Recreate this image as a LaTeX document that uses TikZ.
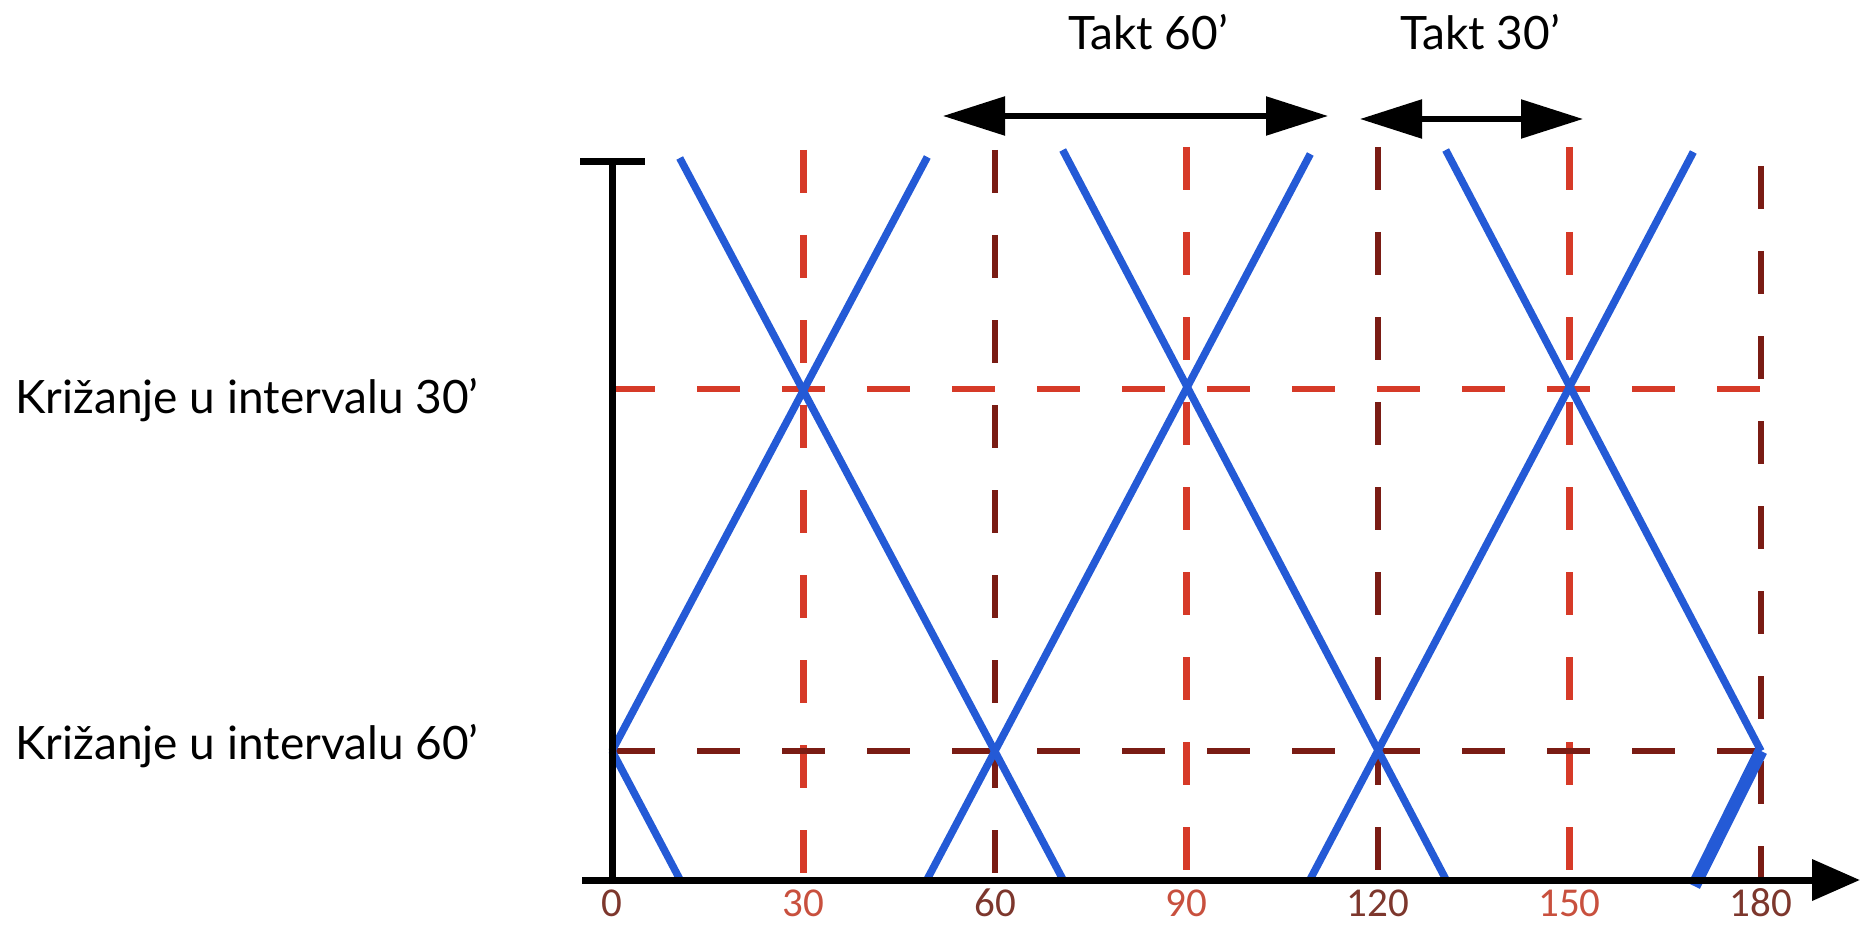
\documentclass[tikz,border=0pt]{standalone}
\usepackage{fontspec}
\setmainfont{Lato}
\newfontfamily\numfont{Carlito}
\usetikzlibrary{arrows.meta}
\definecolor{lred}{RGB}{214,58,40}
\definecolor{dred}{RGB}{122,28,20}
\definecolor{tblue}{RGB}{36,90,214}
\definecolor{numred}{RGB}{200,80,62}
\definecolor{numdark}{RGB}{125,55,45}
\begin{document}
\begin{tikzpicture}[x=1pt,y=-1pt,
  gridline/.style={line width=6.5pt, dash pattern=on 43pt off 42pt},
  train/.style={tblue, line width=7.5pt},
  thicktrain/.style={tblue, line width=13pt},
  axisline/.style={black, line width=7pt},
  taktarrow/.style={black, line width=5.5pt, {Triangle[length=62pt,width=38pt]}-{Triangle[length=62pt,width=38pt]}},
  biglabel/.style={font=\fontsize{46}{52}\selectfont, inner sep=0pt},
  numlabel/.style={font=\numfont\fontsize{41}{44}\selectfont, inner sep=0pt}]
\useasboundingbox (0,0) rectangle (1862,925);

% vertical grid coordinates
\coordinate (v30t) at (803.5,150);  \coordinate (v30b) at (803.5,880);
\coordinate (v60t) at (995,150);    \coordinate (v60b) at (995,880);
\coordinate (v90t) at (1186.5,147); \coordinate (v90b) at (1186.5,880);
\coordinate (v120t) at (1378,147);  \coordinate (v120b) at (1378,880);
\coordinate (v150t) at (1569.5,147);\coordinate (v150b) at (1569.5,880);
\coordinate (v180t) at (1761,166);  \coordinate (v180b) at (1761,880);
% horizontal grid coordinates
\coordinate (h30l) at (612,389); \coordinate (h30r) at (1761,389);
\coordinate (h60l) at (612,751); \coordinate (h60r) at (1761,751);

\draw[gridline, lred] (v30t) -- (v30b);
\draw[gridline, dred] (v60t) -- (v60b);
\draw[gridline, lred] (v90t) -- (v90b);
\draw[gridline, dred] (v120t) -- (v120b);
\draw[gridline, lred] (v150t) -- (v150b);
\draw[gridline, dred] (v180t) -- (v180b);
\draw[gridline, lred] (h30l) -- (h30r);
\draw[gridline, dred] (h60l) -- (h60r);

% train paths
\coordinate (o) at (612,751);
\coordinate (a0t) at (927.3,157);
\coordinate (a1b) at (926.8,880);  \coordinate (a1t) at (1310.3,154);
\coordinate (a2b) at (1309.8,880); \coordinate (a2t) at (1693.3,152);
\coordinate (a3b) at (1694,886);   \coordinate (a3t) at (1761,751);
\coordinate (d0b) at (680.2,880);
\coordinate (d1t) at (679.7,158);  \coordinate (d1b) at (1063.2,880);
\coordinate (d2t) at (1062.7,150); \coordinate (d2b) at (1446.2,880);
\coordinate (d3t) at (1445.7,150); \coordinate (d3b) at (1761,751);

\draw[train] (o) -- (a0t);
\draw[train] (a1b) -- (a1t);
\draw[train] (a2b) -- (a2t);
\draw[thicktrain] (a3b) -- (a3t);
\draw[train] (o) -- (d0b);
\draw[train] (d1t) -- (d1b);
\draw[train] (d2t) -- (d2b);
\draw[train] (d3t) -- (d3b);

% axes
\coordinate (xl) at (582,880); \coordinate (xr) at (1860,880);
\coordinate (yb) at (612,884); \coordinate (yt) at (612,162);
\coordinate (tl) at (580,162); \coordinate (tr) at (645,162);
\draw[axisline, -{Triangle[length=48pt,width=40pt]}] (xl) -- (xr);
\draw[axisline] (yb) -- (yt);
\draw[axisline] (tl) -- (tr);

% axis numbers
\node[numlabel, text=numdark] (n0) at (612,903) {0};
\node[numlabel, text=numred] (n30) at (803.5,903) {30};
\node[numlabel, text=numdark] (n60) at (995,903) {60};
\node[numlabel, text=numred] (n90) at (1186.5,903) {90};
\node[numlabel, text=numdark] (n120) at (1378,903) {120};
\node[numlabel, text=numred] (n150) at (1569.5,903) {150};
\node[numlabel, text=numdark] (n180) at (1761,903) {180};

% labels
\node[biglabel, anchor=base west] (lab30) at (15,413) {Križanje u intervalu 30’};
\node[biglabel, anchor=base west] (lab60) at (15,759) {Križanje u intervalu 60’};
\node[biglabel, anchor=base west] (takt60) at (1068,50) {Takt 60’};
\node[biglabel, anchor=base west] (takt30) at (1400,50) {Takt 30’};

% takt arrows
\coordinate (t60l) at (943,116); \coordinate (t60r) at (1328,116);
\coordinate (t30l) at (1360,119); \coordinate (t30r) at (1583,119);
\draw[taktarrow] (t60l) -- (t60r);
\draw[taktarrow] (t30l) -- (t30r);
\end{tikzpicture}
\end{document}
